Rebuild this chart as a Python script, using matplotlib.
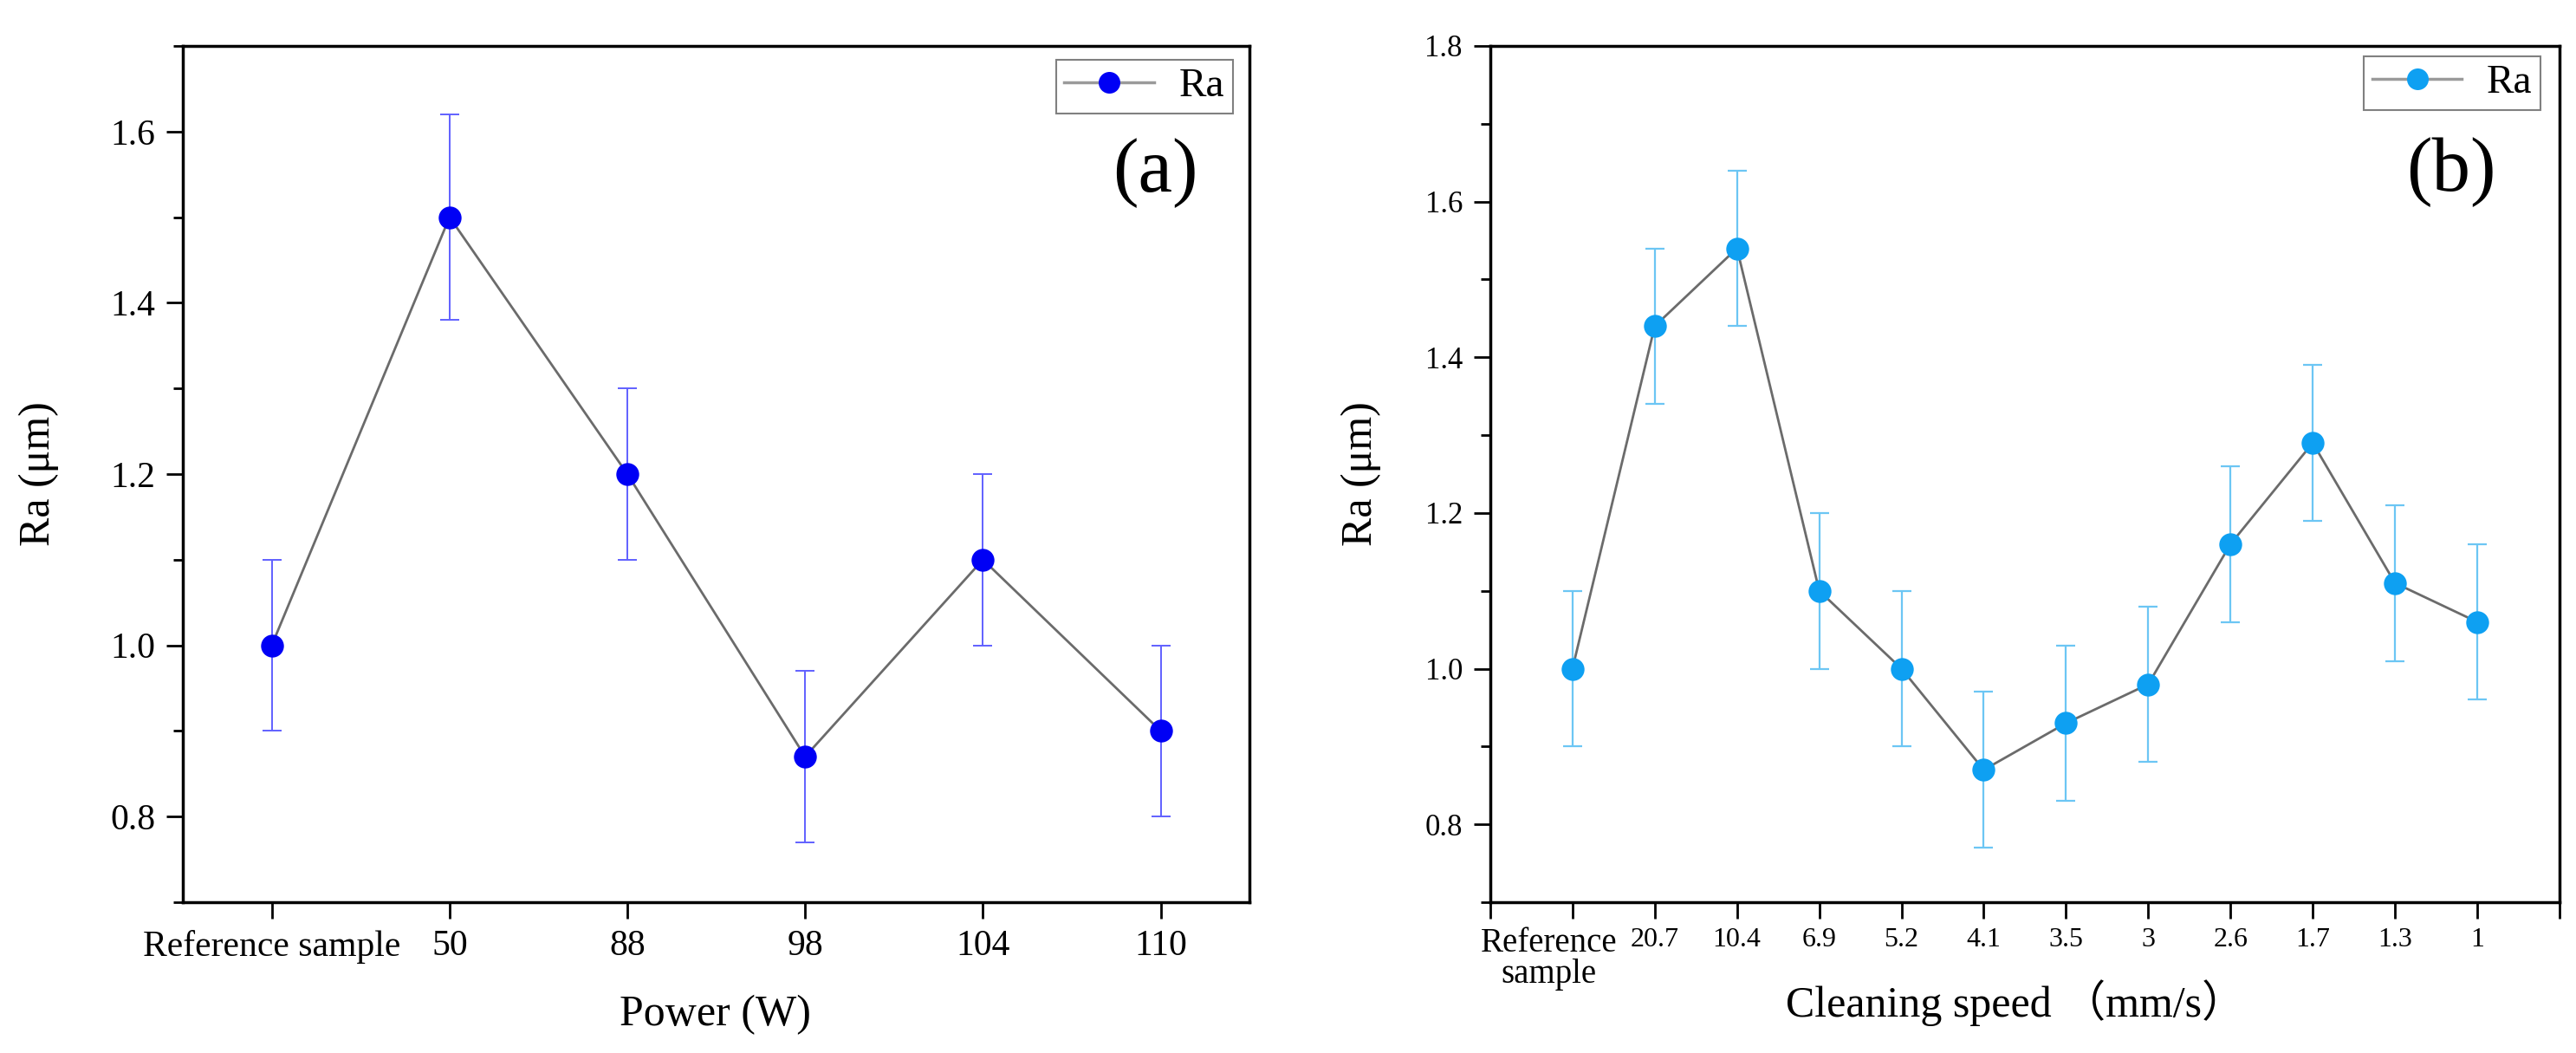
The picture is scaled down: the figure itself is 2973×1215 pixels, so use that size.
import numpy as np
import matplotlib
matplotlib.use('Agg')
import matplotlib.pyplot as plt
from matplotlib.ticker import MultipleLocator
from matplotlib.transforms import ScaledTranslation

plt.rcParams['font.family'] = ['Liberation Serif', 'Noto Sans CJK SC']

# ---------------- data ----------------
power_labels = ['Reference sample', '50', '88', '98', '104', '110']
power_ra = [1.00, 1.50, 1.20, 0.87, 1.10, 0.90]
power_err = [0.10, 0.12, 0.10, 0.10, 0.10, 0.10]

speed_labels = ['Reference\nsample', '20.7', '10.4', '6.9', '5.2', '4.1',
                '3.5', '3', '2.6', '1.7', '1.3', '1']
speed_ra = [1.00, 1.44, 1.54, 1.10, 1.00, 0.87, 0.93, 0.98, 1.16, 1.29, 1.11, 1.06]
speed_err = [0.10, 0.10, 0.10, 0.10, 0.10, 0.10, 0.10, 0.10, 0.10, 0.10, 0.10, 0.10]

# ---------------- figure ----------------
fig = plt.figure(figsize=(29.73, 12.15), dpi=100)
ax1 = fig.add_axes([0.0710, 0.1432, 0.4141, 0.8132])
ax2 = fig.add_axes([0.5785, 0.1432, 0.4151, 0.8132])


def style_axes(ax, ytick_size):
    for s in ax.spines.values():
        s.set_linewidth(2.5)
        s.set_color('black')
    ax.tick_params(axis='both', which='major', direction='out', length=14,
                   width=2, color='black', pad=9)
    ax.tick_params(axis='y', which='major', labelsize=ytick_size)
    ax.tick_params(axis='y', which='minor', direction='out', length=8, width=2)
    ax.tick_params(top=False, right=False, which='both')
    ax.xaxis.set_minor_locator(plt.NullLocator())
    ax.yaxis.set_minor_locator(MultipleLocator(0.1))


def add_legend(ax, anchor):
    leg = ax.legend(loc='upper right', bbox_to_anchor=anchor, fontsize=34,
                    handlelength=2.2, handletextpad=0.6, borderpad=0.2,
                    borderaxespad=0, fancybox=False, framealpha=1,
                    edgecolor='#808080')
    leg.get_frame().set_linewidth(1.5)
    return leg


# ---------------- panel (a) ----------------
xa = np.arange(len(power_labels))
ax1.errorbar(xa, power_ra, yerr=power_err, fmt='none', ecolor='#6060ff',
             elinewidth=1.4, capsize=8, capthick=1.4, zorder=2)
ax1.plot(xa, power_ra, '-', color='#6b6b6b', lw=2, zorder=3)
ax1.plot(xa, power_ra, 'o', color='#0000f5', ms=19, mec='none', zorder=4)
ax1.plot([], [], '-o', color='#9a9a9a', mfc='#0000f5', mec='none', ms=18,
         lw=2.5, label='Ra')
ax1.set_xlim(-0.5, 5.5)
ax1.set_ylim(0.7, 1.7)
ax1.set_xticks(xa)
ax1.set_xticklabels(power_labels, fontsize=30)
ax1.set_yticks([0.8, 1.0, 1.2, 1.4, 1.6])
ax1.set_yticklabels([f'{v:.1f}' for v in [0.8, 1.0, 1.2, 1.4, 1.6]])
style_axes(ax1, 30)
ax1.set_xlabel('Power (W)', fontsize=36)
ax1.xaxis.label.set_va('center')
ax1.xaxis.set_label_coords(0.499, -0.131)
ax1.set_ylabel('Ra (μm)', fontsize=36)
ax1.yaxis.label.set_va('center')
ax1.yaxis.set_label_coords(-0.135, 0.5)
add_legend(ax1, (0.984, 0.984))
ax1.text(0.912, 0.852, '(a)', transform=ax1.transAxes, fontsize=64,
         ha='center', va='center')

# ---------------- panel (b) ----------------
xb = np.arange(len(speed_labels))
ax2.errorbar(xb, speed_ra, yerr=speed_err, fmt='none', ecolor='#6cc6f4',
             elinewidth=1.6, capsize=8, capthick=1.6, zorder=2)
ax2.plot(xb, speed_ra, '-', color='#6b6b6b', lw=2, zorder=3)
ax2.plot(xb, speed_ra, 'o', color='#0ea0f2', ms=19, mec='none', zorder=4)
ax2.plot([], [], '-o', color='#9a9a9a', mfc='#0ea0f2', mec='none', ms=18,
         lw=2.5, label='Ra')
ax2.set_xlim(-1, 12)
ax2.set_ylim(0.7, 1.8)
ax2.set_xticks(np.arange(-1, 13))
ax2.set_xticklabels([''] + speed_labels + [''], fontsize=23)
ax2.set_yticks([0.8, 1.0, 1.2, 1.4, 1.6, 1.8])
ax2.set_yticklabels([f'{v:.1f}' for v in [0.8, 1.0, 1.2, 1.4, 1.6, 1.8]])
style_axes(ax2, 25)
ax2.tick_params(axis='x', which='major', pad=7)
ref_lbl = ax2.get_xticklabels()[1]
ref_lbl.set_fontsize(28)
ref_lbl.set_linespacing(0.95)
ref_lbl.set_transform(ref_lbl.get_transform()
                      + ScaledTranslation(-0.27, 0, fig.dpi_scale_trans))
ax2.set_xlabel('Cleaning speed （mm/s）', fontsize=36)
ax2.xaxis.label.set_va('center')
ax2.xaxis.set_label_coords(0.491, -0.118)
ax2.set_ylabel('Ra (μm)', fontsize=36)
ax2.yaxis.label.set_va('center')
ax2.yaxis.set_label_coords(-0.121, 0.5)
add_legend(ax2, (0.982, 0.988))
ax2.text(0.899, 0.853, '(b)', transform=ax2.transAxes, fontsize=64,
         ha='center', va='center')

fig.savefig('out.png', dpi=100, facecolor='white')
